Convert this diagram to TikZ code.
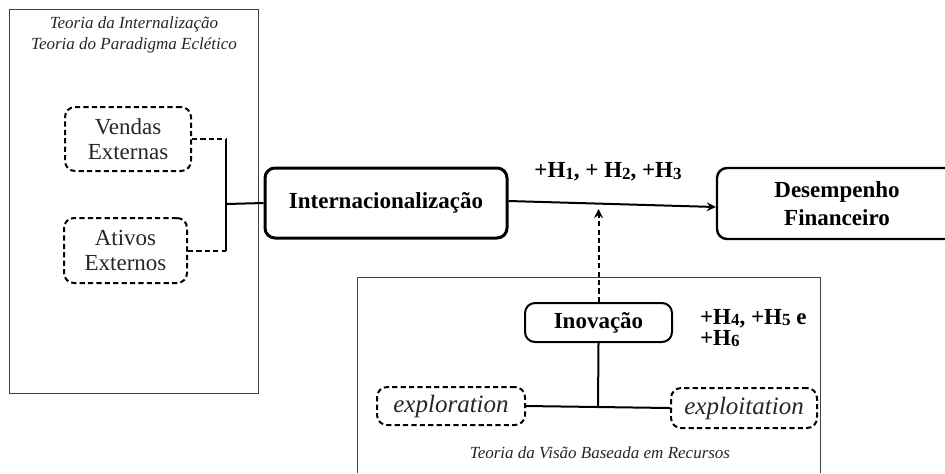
\documentclass[tikz,border=0pt]{standalone}
\usepackage{fontspec}
\setmainfont{Liberation Serif}
\usepackage{tikz}
\usetikzlibrary{calc}
\newcommand{\hnum}[1]{\raisebox{-0.15ex}{\fontsize{8.5}{9}\selectfont #1}}

\begin{document}
\begin{tikzpicture}[x=0.5pt, y=-0.5pt, >=stealth,
    moldura/.style={draw=black!75, line width=0.5pt},
    caixa/.style={draw, rounded corners=5pt, line width=1pt, align=center, inner sep=0pt,
        font=\fontsize{11.5}{14}\selectfont\bfseries},
    tracejada/.style={draw, dashed, dash pattern=on 2.6pt off 1.6pt, rounded corners=5pt,
        line width=1pt, align=center, inner sep=0pt, text=black!85},
    titulo/.style={align=center, text=black!85, font=\fontsize{8.5}{10.5}\selectfont\itshape},
    liga/.style={line width=1pt},
    hip/.style={font=\fontsize{11.5}{10.5}\selectfont\bfseries}]
    \useasboundingbox (0,0) rectangle (945,473);
    % Molduras das teorias
    \draw[moldura] (9,9) rectangle (258,393);
    \draw[moldura] (357,473) -- (357,277) -- (820,277) -- (820,473);
    \node[titulo] (tinter) at (134,35) {Teoria da Internalização\\Teoria do Paradigma Eclético};
    \node[titulo] (trbv) at (600,453) {Teoria da Visão Baseada em Recursos};
    % Construtos
    \node[tracejada, minimum width=63pt, minimum height=32pt, font=\fontsize{11.5}{12.5}\selectfont]
        (vendas) at (128,139) {Vendas\\Externas};
    \node[tracejada, minimum width=61.5pt, minimum height=32.5pt, font=\fontsize{11.5}{12.5}\selectfont]
        (ativos) at (125.5,250.5) {Ativos\\Externos};
    \node[caixa, line width=1.5pt, minimum width=121pt, minimum height=35pt] (intern) at (386,203) {Internacionalização};
    \node[caixa, line width=1.2pt, minimum width=120pt, minimum height=35.5pt] (desemp) at (837,203.5) {Desempenho\\Financeiro};
    \node[caixa, minimum width=73.5pt, minimum height=19.5pt] (inov) at (598.5,322.5) {Inovação};
    \node[tracejada, minimum width=74pt, minimum height=19pt, font=\fontsize{12.5}{14}\selectfont\itshape]
        (explor) at (451,406) {exploration};
    \node[tracejada, minimum width=73pt, minimum height=20pt, font=\fontsize{12.5}{14}\selectfont\itshape]
        (exploi) at (744,408) {exploitation};
    % Hipóteses
    \node[hip] (h13) at (608,172) {+H\hnum{1}, + H\hnum{2}, +H\hnum{3}};
    \node[hip, anchor=west, align=left] (h46) at (693,328) {+H\hnum{4}, +H\hnum{5} e\\+H\hnum{6}};
    % Ligações
    \coordinate (juncA) at (226,204);
    \coordinate (alvo) at (598.5,209);
    \draw[liga, dashed, dash pattern=on 2.6pt off 1.6pt] (vendas.east) -- (vendas.east -| juncA);
    \draw[liga, dashed, dash pattern=on 2.6pt off 1.6pt] (ativos.east) -- (ativos.east -| juncA);
    \draw[liga] (vendas.east -| juncA) -- (ativos.east -| juncA);
    \draw[liga] (juncA) -- (intern.west);
    \draw[liga, ->] ([yshift=1pt]intern.east) -- ([yshift=-1.75pt]desemp.west);
    \draw[liga, ->, dashed, dash pattern=on 2.6pt off 1.6pt] (inov.north) -- (alvo);
    \draw[liga] (explor.east) -- coordinate[midway] (juncB) (exploi.west);
    \draw[liga] (inov.south) -- (juncB);
\end{tikzpicture}
\end{document}
